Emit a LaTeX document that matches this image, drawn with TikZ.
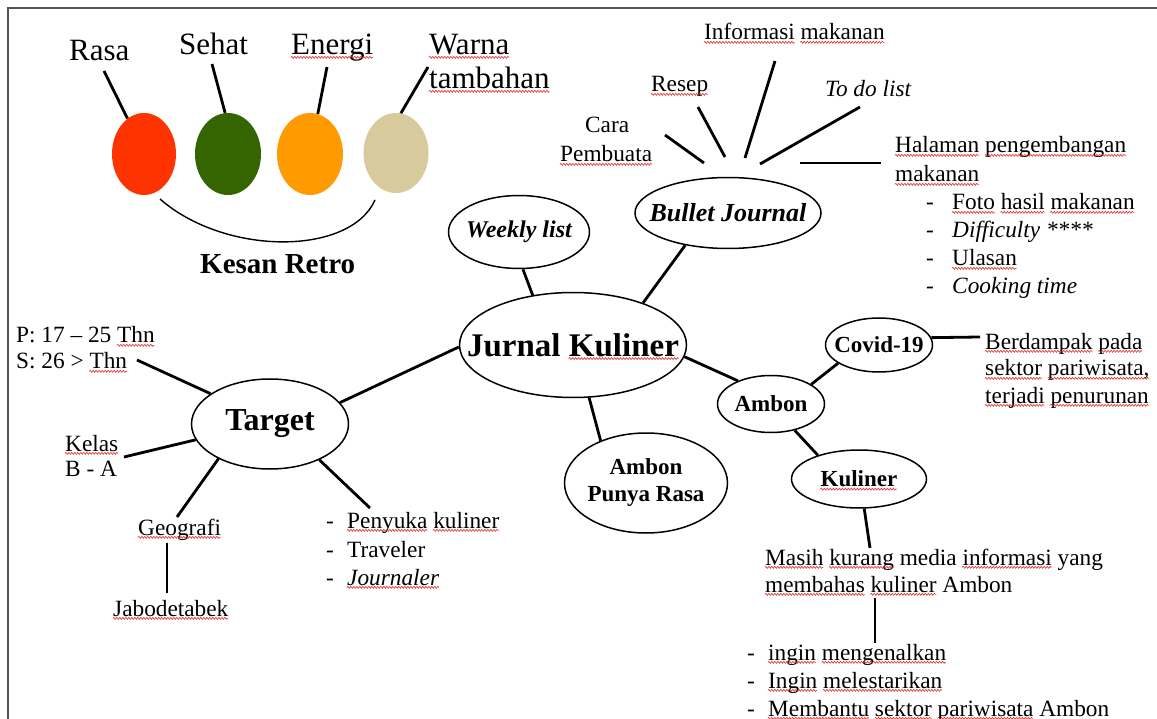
\documentclass[tikz,border=0pt]{standalone}
\usepackage{fontspec}
\setmainfont{Liberation Serif}
\usetikzlibrary{shapes.geometric,decorations.pathmorphing}
\definecolor{cred}{HTML}{FF3300}
\definecolor{cgreen}{HTML}{346500}
\definecolor{corange}{HTML}{FF9B00}
\definecolor{cbeige}{HTML}{D7CA9C}
\definecolor{frame}{HTML}{555555}
\definecolor{squig}{HTML}{E02020}
\newsavebox\sqbox
\newlength\sqwd
\newcommand\sq[1]{\sbox\sqbox{#1}\setlength\sqwd{\wd\sqbox}\usebox\sqbox\llap{\smash{\raisebox{-3.6pt}{\tikz\draw[squig,line width=0.55pt,decorate,decoration={snake,amplitude=1pt,segment length=3pt}] (0pt,0pt)--(\sqwd,0pt);}}}}
\newcommand\fnorm{\fontsize{23.3}{28}\selectfont}
\newcommand\fbig{\fontsize{31}{34}\selectfont}
\tikzset{
 con/.style={line width=2.8pt, black},
 bub/.style={draw, ellipse, line width=1.5pt, inner sep=0pt},
 blob/.style={ellipse, inner sep=0pt},
 txt/.style={anchor=base west, inner sep=0pt, font=\fnorm},
 bigtxt/.style={anchor=base west, inner sep=0pt, font=\fbig},
 lab/.style={inner sep=0pt, align=center},
}
\begin{document}
\begin{tikzpicture}[x=1pt,y=-1pt]
\useasboundingbox (0,0) rectangle (1157,719);
% frame
\draw[frame, line width=1.4pt] (8,719) -- (8,8) -- (1157,8);

% ---------- Kesan Retro ----------
\node[blob, fill=cred,    minimum width=64, minimum height=82] (red)    at (144,154) {};
\node[blob, fill=cgreen,  minimum width=66, minimum height=82] (green)  at (228,154) {};
\node[blob, fill=corange, minimum width=66, minimum height=82] (orange) at (310,154) {};
\node[blob, fill=cbeige,  minimum width=65, minimum height=80] (beige)  at (396,153) {};

\node[bigtxt] (rasa)  at (69,61) {Rasa};
\node[bigtxt] (sehat) at (179,55) {Sehat};
\node[bigtxt] (energi) at (291,55) {\sq{Energi}};
\node[bigtxt] (warna) at (429,55) {\sq{Warna}};
\node[bigtxt] (tambahan) at (429,89) {\sq{tambahan}};

\coordinate (rasaE) at (104,71);
\coordinate (sehatE) at (212,64);
\coordinate (energiE) at (327,67);
\coordinate (warnaE) at (428,67);
\draw[con] (rasaE) -- (red.115);
\draw[con] (sehatE) -- (green.94);
\draw[con] (energiE) -- (orange.79);
\draw[con] (warnaE) -- (beige.83);

\coordinate (arcL) at (160,199);
\coordinate (arcR) at (375,200);
\draw[line width=1.4pt] (arcL) .. controls (225,256) and (350,256) .. (arcR);
\node[anchor=base west, inner sep=0pt, font=\fontsize{29}{33}\selectfont\bfseries] (kesan) at (200,274) {Kesan Retro};

% ---------- central ----------
\node[bub, minimum width=227, minimum height=105] (jk) at (573,345) {};
\node[lab, font=\fontsize{33}{38}\selectfont\bfseries] (jkt) at (jk) {Jurnal \sq{Kuliner}};

\node[bub, minimum width=141, minimum height=73] (wl) at (519,232) {};
\node[lab, font=\fontsize{24}{28}\selectfont\bfseries\itshape] (wlt) at (wl) {Weekly list};

\node[bub, minimum width=186, minimum height=71] (bj) at (728,213) {};
\node[lab, font=\fontsize{26}{30}\selectfont\bfseries\itshape] (bjt) at (bj) {Bullet Journal};

\node[bub, minimum width=163, minimum height=100] (apr) at (646,483) {};
\node[lab, font=\fontsize{23}{27}\selectfont\bfseries] (aprt) at (apr) {Ambon\\Punya Rasa};

\node[bub, minimum width=157, minimum height=90] (tg) at (270,424) {};
\node[lab, font=\fontsize{32}{36}\selectfont\bfseries] (tgt) at (tg) {Target};

\node[bub, minimum width=107, minimum height=54] (cov) at (879,345) {};
\node[lab, font=\fontsize{23}{27}\selectfont\bfseries] (covt) at (cov) {Covid-19};

\node[bub, minimum width=107, minimum height=57] (amb) at (771,404) {};
\node[lab, font=\fontsize{23}{27}\selectfont\bfseries] (ambt) at (amb) {Ambon};

\node[bub, minimum width=135, minimum height=58] (kul) at (859,479) {};
\node[lab, font=\fontsize{23}{27}\selectfont\bfseries] (kult) at (kul) {\sq{Kuliner}};

\draw[con] (wl.-84) -- (jk.129);
\draw[con] (bj.217) -- (jk.31);
\draw[con] (tg.17) -- (jk.181);
\draw[con] (jk.-73) -- (apr.137);
\draw[con] (jk.-6) -- (amb.145);
\draw[con] (amb.26) -- (cov.204);
\draw[con] (amb.-48) -- (kul.150);

% ---------- Bullet Journal branches ----------
\node[txt] (info) at (704,40) {\sq{Informasi} \sq{makanan}};
\node[txt] (resep) at (651,92) {\sq{Resep}};
\node[txt, font=\fnorm\itshape] (todo) at (825,97) {To do list};
\node[txt] (cara) at (585,133) {Cara};
\node[txt] (pemb) at (560,162) {\sq{Pembuata}};
\node[txt] (hal1) at (895,153) {\sq{Halaman} \sq{pengembangan}};
\node[txt] (hal2) at (895,182) {\sq{makanan}};
\node[txt] (hd1) at (926,210) {-};
\node[txt] (hd2) at (926,238) {-};
\node[txt] (hd3) at (926,266) {-};
\node[txt] (hd4) at (926,294) {-};
\node[txt] (hl1) at (952,210) {\sq{Foto} \sq{hasil} \sq{makanan}};
\node[txt, font=\fnorm\itshape] (hl2) at (952,238) {Difficulty ****};
\node[txt] (hl3) at (952,266) {\sq{Ulasan}};
\node[txt, font=\fnorm\itshape] (hl4) at (952,294) {Cooking time};

\coordinate (caraA) at (665,135);  \coordinate (caraB) at (704,163);
\coordinate (resepA) at (698,107); \coordinate (resepB) at (725,157);
\coordinate (infoA) at (775,61);   \coordinate (infoB) at (745,158);
\coordinate (todoA) at (860,107);  \coordinate (todoB) at (760,164);
\coordinate (halA) at (800,163);   \coordinate (halB) at (881,163);
\draw[con] (caraA) -- (caraB);
\draw[con] (resepA) -- (resepB);
\draw[con] (infoA) -- (infoB);
\draw[con] (todoA) -- (todoB);
\draw[con] (halA) -- (halB);

% ---------- Covid / Kuliner branches ----------
\node[txt] (ber1) at (985,349) {\sq{Berdampak} \sq{pada}};
\node[txt] (ber2) at (985,376) {\sq{sektor} \sq{pariwisata,}};
\node[txt] (ber3) at (985,403) {\sq{terjadi} \sq{penurunan}};
\coordinate (covE) at (980,337);
\draw[con] (cov.8) -- (covE);

\node[txt] (mas1) at (765,565) {\sq{Masih} \sq{kurang} media \sq{informasi} yang};
\node[txt] (mas2) at (765,592) {\sq{membahas} \sq{kuliner} Ambon};
\coordinate (masE) at (870,548);
\draw[con] (kul.-80) -- (masE);
\coordinate (vA) at (875,598); \coordinate (vB) at (875,643);
\draw[con] (vA) -- (vB);
\node[txt] (md1) at (747,660) {-};
\node[txt] (md2) at (747,688) {-};
\node[txt] (md3) at (747,716) {-};
\node[txt] (ml1) at (768,660) {\sq{ingin} \sq{mengenalkan}};
\node[txt] (ml2) at (768,688) {\sq{Ingin} \sq{melestarikan}};
\node[txt] (ml3) at (768,716) {\sq{Membantu} \sq{sektor} \sq{pariwisata} Ambon};

% ---------- Target branches ----------
\node[txt] (p1) at (16,343) {P: 17 -- 25 \sq{Thn}};
\node[txt] (p2) at (16,369) {S: 26 > \sq{Thn}};
\node[txt] (kel1) at (65,451) {\sq{Kelas}};
\node[txt] (kel2) at (65,476) {B - A};
\node[txt] (geo) at (138,535) {\sq{Geografi}};
\node[txt] (jab) at (113,616) {\sq{Jabodetabek}};
\node[txt] (td1) at (326,528) {-};
\node[txt] (td2) at (326,557) {-};
\node[txt] (td3) at (326,585) {-};
\node[txt] (tl1) at (347,528) {\sq{Penyuka} \sq{kuliner}};
\node[txt] (tl2) at (347,557) {Traveler};
\node[txt, font=\fnorm\itshape] (tl3) at (347,585) {\sq{Journaler}};

\coordinate (pE) at (137,360);
\coordinate (kelE) at (124,457);
\coordinate (geoE) at (177,517);
\coordinate (penE) at (370,508);
\draw[con] (pE) -- (tg.153);
\draw[con] (kelE) -- (tg.192);
\draw[con] (geoE) -- (tg.214);
\draw[con] (penE) -- (tg.-36);
\coordinate (gA) at (167,543); \coordinate (gB) at (167,593);
\draw[con] (gA) -- (gB);
\end{tikzpicture}
\end{document}
